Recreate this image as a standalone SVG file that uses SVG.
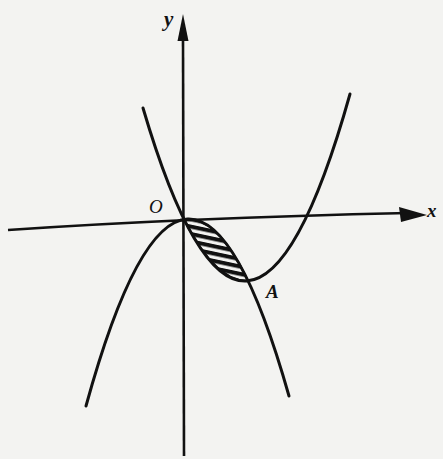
<svg xmlns="http://www.w3.org/2000/svg" width="443" height="459" viewBox="0 0 443 459">
  <style>
    .curve { fill: none; stroke: #111; stroke-width: 3; stroke-linecap: round; }
    .axis { fill: none; stroke: #111; stroke-width: 2.6; }
    .head { fill: #111; }
    .lbl { font-family: "Liberation Serif", "DejaVu Serif", serif; font-style: italic; fill: #111; }
  </style>
  <defs>
    <pattern id="hatch" patternUnits="userSpaceOnUse" width="40" height="7.2" patternTransform="rotate(12)">
      <rect x="0" y="0" width="40" height="4" fill="#111"/>
    </pattern>
  </defs>
  <rect x="0" y="0" width="443" height="459" fill="#f3f3f1"/>
  <g id="axes">
    <g id="x-axis">
      <path class="axis" d="M8,230 Q183,218 408,213"/>
      <polygon class="head" points="399,207 427,215 401,222"/>
    </g>
    <g id="y-axis">
      <path class="axis" d="M183,38 L184,456"/>
      <polygon class="head" points="183,14 177.5,41 188.5,41"/>
    </g>
  </g>
  <g id="region">
    <polygon fill="url(#hatch)" stroke="#111" stroke-width="2" points="184,219.5 190,219 200,221.1 210,226.8 220,236 230,248.8 240,265 248,280.8 240,280.3 230,276.7 220,269.9 210,260 200,246.9 190,230.7"/>
  </g>
  <g id="curves">
    <path id="parabola-up" class="curve" d="M143,108 Q247,461 350,94"/>
    <path id="parabola-down" class="curve" d="M86,406 Q187.5,37 289,396"/>
  </g>
  <g id="labels">
    <text class="lbl" x="164" y="26" font-size="21" font-weight="bold">y</text>
    <text class="lbl" x="149" y="213" font-size="19">O</text>
    <text class="lbl" x="427" y="217" font-size="19" font-weight="bold">x</text>
    <text class="lbl" x="266" y="298" font-size="19" font-weight="bold">A</text>
  </g>
</svg>
